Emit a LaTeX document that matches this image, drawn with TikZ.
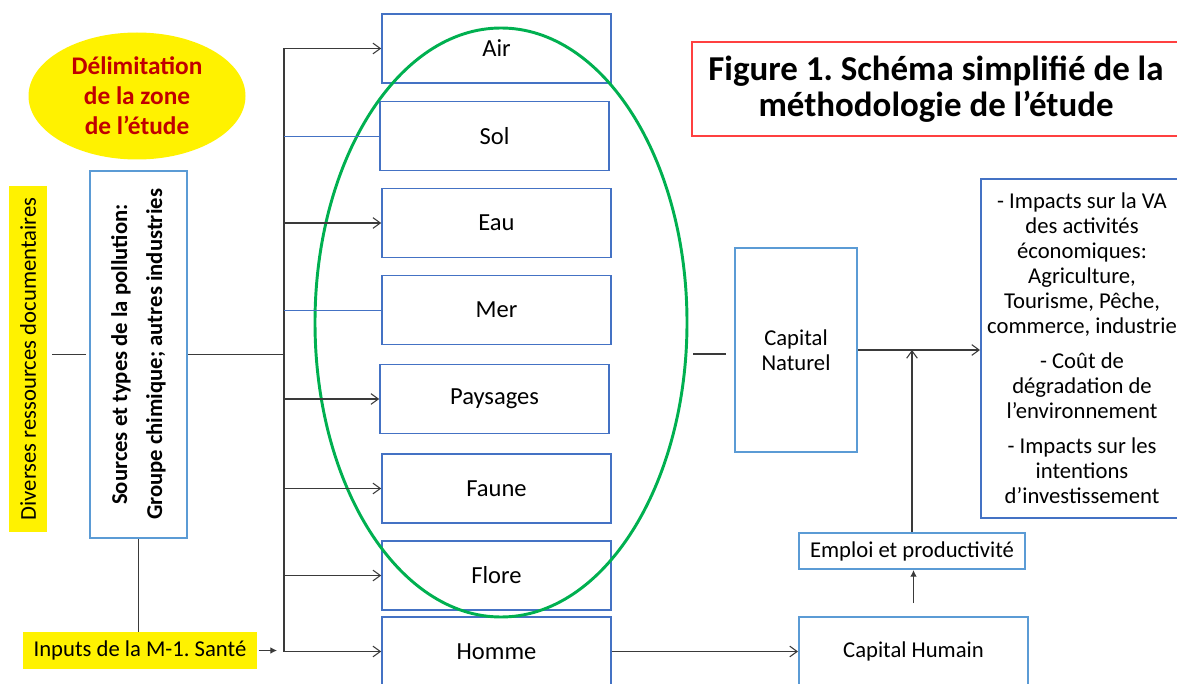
\documentclass[tikz,border=0pt]{standalone}
\usepackage{fontspec}
\setmainfont{Carlito}
\usetikzlibrary{shapes.geometric,arrows.meta}
\definecolor{dblue}{HTML}{4472C4}
\definecolor{lblue}{HTML}{5B9BD5}
\definecolor{egreen}{HTML}{00B050}
\definecolor{dred}{HTML}{C00000}
\definecolor{tred}{HTML}{FF4040}
\definecolor{conn}{HTML}{3A3A3A}
\newcommand{\pxu}{0.75pt}
\frenchspacing
\begin{document}
\begin{tikzpicture}[x=0.75pt,y=-0.75pt,
  darkbox/.style={draw=dblue, line width=1.2pt, fill=white, minimum width=229*\pxu, minimum height=69*\pxu, inner sep=0pt, font=\fontsize{18.4}{21}\selectfont},
  lightbox/.style={draw=lblue, line width=1.5pt, fill=white, inner sep=0pt, align=center, font=\fontsize{17}{18.75}\selectfont},
  cline/.style={draw=conn, line width=0.8pt},
  bline/.style={draw=dblue, line width=0.7pt},
  openarrow/.style={-{Straight Barb[length=5.5pt,width=8pt]}},
  fillarrow/.style={-{Latex[length=5pt,width=5pt]}}
]
\useasboundingbox (0,0) rectangle (1177,684);

% left side
\node[ellipse, fill=yellow, minimum width=217*\pxu, minimum height=127*\pxu, inner sep=0pt, align=center, text=dred, font=\bfseries\fontsize{19}{22.5}\selectfont] (delim) at (137,96) {Délimitation\\de la zone\\de l’étude};
\node[fill=yellow, rotate=90, minimum width=346*\pxu, minimum height=38*\pxu, inner sep=0pt, font=\fontsize{17}{19}\selectfont] (div) at (28,359) {Diverses ressources documentaires};
\node[lightbox, rotate=90, minimum width=367*\pxu, minimum height=97*\pxu, font=\bfseries\fontsize{17}{26.25}\selectfont] (src) at (138.5,354.5) {Sources et types de la pollution:\\Groupe chimique; autres industries};
\node[fill=yellow, minimum width=234*\pxu, minimum height=37*\pxu, inner sep=0pt, font=\fontsize{17}{19}\selectfont] (inputs) at (140,650.5) {Inputs de la M-1. Santé};

% middle column
\node[darkbox] (air) at (496.5,48.5) {Air};
\node[darkbox] (sol) at (494.5,136) {Sol};
\node[darkbox] (eau) at (496.5,223) {Eau};
\node[darkbox] (mer) at (496.5,310) {Mer};
\node[darkbox] (pays) at (494.5,399) {Paysages};
\node[darkbox] (faune) at (496.5,488.5) {Faune};
\node[darkbox] (flore) at (496.5,575.5) {Flore};
\node[darkbox] (homme) at (496.5,651.5) {Homme};

\node[ellipse, draw=egreen, line width=2.2pt, minimum width=372*\pxu, minimum height=589*\pxu, inner sep=0pt] (env) at (501,322.5) {};

% title
\node[draw=tred, line width=1.1pt, minimum width=488*\pxu, minimum height=94*\pxu, inner sep=0pt, align=center, font=\bfseries\fontsize{26.2}{27}\selectfont] (title) at (936,89) {Figure 1. Schéma simplifié de la\\méthodologie de l’étude};

% right side
\node[lightbox, minimum width=122*\pxu, minimum height=204*\pxu] (capn) at (796,350) {Capital\\Naturel};
\node[draw=dblue, line width=1.5pt, fill=white, minimum width=202*\pxu, minimum height=339*\pxu, inner sep=0pt, align=center, font=\fontsize{17}{18.75}\selectfont] (impacts) at (1082,348.5) {- Impacts sur la VA\\des activités\\économiques:\\Agriculture,\\Tourisme, Pêche,\\commerce, industrie\\[7.5pt]- Coût de\\dégradation de\\l’environnement\\[7.5pt]- Impacts sur les\\intentions\\d’investissement};
\node[lightbox, minimum width=226*\pxu, minimum height=36*\pxu] (emploi) at (912,551) {Emploi et productivité};
\node[lightbox, minimum width=229*\pxu, minimum height=69*\pxu] (caph) at (913.5,651.5) {Capital Humain};

% connectors
\coordinate (tr) at (284,354.5);
\draw[cline, shorten <=3.75pt, shorten >=2.25pt] (src.north -| div.south) -- (src.north);
\draw[cline] (src.south) -- (tr);
\draw[cline] (air.west -| tr) -- (homme.west -| tr);
\draw[cline, openarrow] (air.west -| tr) -- (air.west);
\draw[bline] (sol.west -| tr) -- (sol.west);
\draw[cline, openarrow] (eau.west -| tr) -- (eau.west);
\draw[bline] (mer.west -| tr) -- (mer.west);
\draw[cline, openarrow] (pays.west -| tr) -- (pays.west);
\draw[cline, openarrow] (faune.west -| tr) -- (faune.west);
\draw[cline, openarrow] (flore.west -| tr) -- (flore.west);
\draw[cline, openarrow] (homme.west -| tr) -- (homme.west);
\draw[cline] (src.west) -- (src.west |- inputs.north);
\draw[cline, fillarrow, shorten <=1pt, shorten >=5.25pt] (inputs.east) -- (inputs.east -| tr);

\coordinate (lk) at (693,354);
\draw[cline, shorten >=6pt] (lk) -- (lk -| capn.west);
\draw[cline, openarrow] (capn.east) -- (capn.east -| impacts.west);
\draw[cline, openarrow] (emploi.north) -- (emploi.north |- capn.east);
\draw[cline, line width=1pt, fillarrow, shorten <=9.75pt] (caph.north) -- (caph.north |- emploi.south);
\draw[cline, openarrow] (homme.east) -- (caph.west);
\end{tikzpicture}
\end{document}
